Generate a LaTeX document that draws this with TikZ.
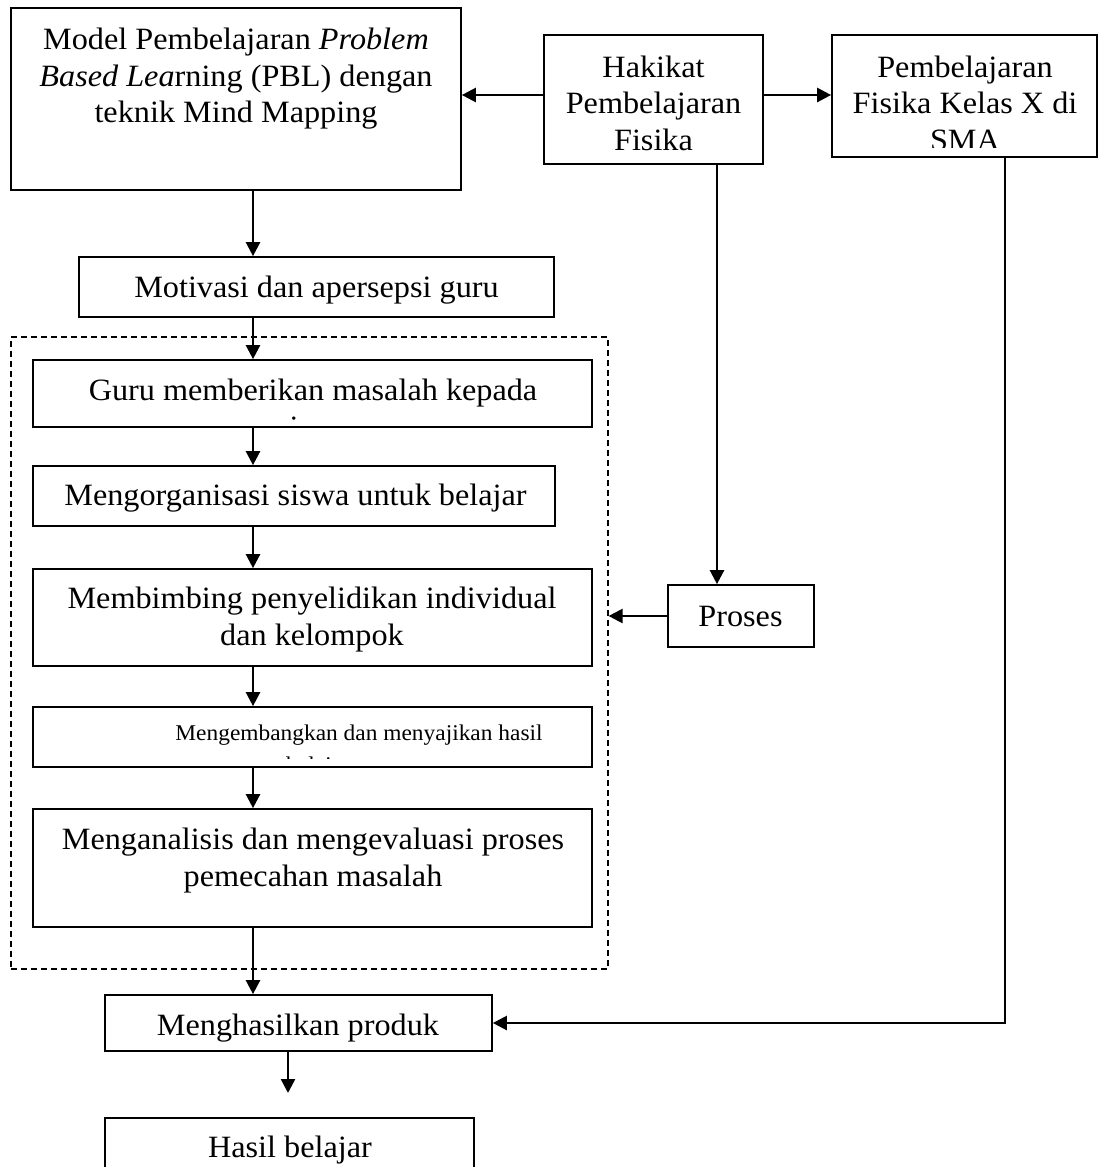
\documentclass[tikz,border=0pt]{standalone}
\usepackage{fontspec}
\setmainfont{Liberation Serif}[FakeStretch=1.04]
\usetikzlibrary{arrows.meta}
\tikzset{
  box/.style={draw, line width=1.7pt, rectangle, inner sep=0pt},
  dbox/.style={draw, line width=1.2pt, dash pattern=on 6pt off 4pt, rectangle, inner sep=0pt},
  txt/.style={inner sep=0pt, align=center, font=\fontsize{31}{36.5}\selectfont},
  smalltxt/.style={inner sep=0pt, align=center, font=\fontsize{22.5}{32}\selectfont},
  arr/.style={line width=2.4pt, -{Triangle[length=14pt,width=14pt]}},
  ln/.style={line width=2.4pt}
}
\newcommand{\pbox}[6][box]{% style, name, x1, y1, x2, y2
  \node[#1, minimum width={#5-#3}, minimum height={#6-#4}] (#2) at ({(#3+#5)/2},{(#4+#6)/2}) {};}
\begin{document}
\begin{tikzpicture}[x=1pt,y=-1pt]
\clip (0,0) rectangle (1098,1167);
\fill[white] (0,0) rectangle (1098,1167);

% boxes
\pbox{A}{11}{8}{461}{190}
\pbox{H}{544}{35}{763}{164}
\pbox{P}{832}{35}{1097}{157}
\pbox{Mo}{79}{257}{554}{317}
\pbox[dbox]{D}{11}{337}{608}{969}
\pbox{G}{33}{360}{592}{427}
\pbox{Og}{33}{466}{555}{526}
\pbox{Mb}{33}{569}{592}{666}
\pbox{Me}{33}{707}{592}{767}
\pbox{Ma}{33}{809}{592}{927}
\pbox{Pr}{668}{585}{814}{647}
\pbox{Mh}{105}{995}{492}{1051}
\pbox{Hb}{105}{1118}{474}{1200}

% texts
\node[txt, anchor=north] (At) at (236,27.8) {Model Pembelajaran \textit{Problem}\\\textit{Based Lea}rning (PBL) dengan\\teknik Mind Mapping};
\node[txt, anchor=north] (Ht) at (653.5,55.5) {Hakikat\\Pembelajaran\\Fisika};
\begin{scope}
  \clip (832.8,35.8) rectangle (1096.2,147);
  \node[txt, anchor=north] (Pt) at (965,55.5) {Pembelajaran\\Fisika Kelas X di\\SMA};
\end{scope}
\node[txt, anchor=base] (Mot) at (316.5,297) {Motivasi dan apersepsi guru};
\begin{scope}
  \clip (33.8,360.8) rectangle (591.2,421.5);
  \node[txt, anchor=north] (Gt) at (313,378.8) {Guru memberikan masalah kepada\\siswa};
\end{scope}
\node[txt, anchor=base] (Ogt) at (295.5,505) {Mengorganisasi siswa untuk belajar};
\node[txt, anchor=north] (Mbt) at (312,586.8) {Membimbing penyelidikan individual\\dan kelompok};
\begin{scope}
  \clip (33.8,707.8) rectangle (591.2,758.5);
  \node[smalltxt, anchor=north] (Met) at (318,724.6) {\hspace*{82pt}Mengembangkan dan menyajikan hasil\\belajar};
\end{scope}
\node[txt, anchor=north] (Mat) at (313,827.8) {Menganalisis dan mengevaluasi proses\\pemecahan masalah};
\node[txt, anchor=base] (Prt) at (740.5,626) {Proses};
\node[txt, anchor=base] (Mht) at (298,1035) {Menghasilkan produk};
\node[txt, anchor=base] (Hbt) at (290,1157) {Hasil belajar};

% connector guides
\coordinate (cx) at (253,0);
\coordinate (hd) at (717,0);
\coordinate (px) at (1005,0);
\coordinate (endp) at (288,1093);

% connectors
\draw[arr] ([yshift=4.5pt]H.west) -- ([yshift=4.5pt]H.west -| A.east);
\draw[arr] ([yshift=4.5pt]H.east) -- ([yshift=4.5pt]H.east -| P.west);
\draw[arr] (hd |- H.south) -- (hd |- Pr.north);
\draw[arr] (Pr.west) -- (Pr.west -| D.east);
\draw[arr] (px |- P.south) |- (Mh.east);
\draw[arr] (cx |- A.south) -- (cx |- Mo.north);
\draw[arr] (cx |- Mo.south) -- (cx |- G.north);
\draw[arr] (cx |- G.south) -- (cx |- Og.north);
\draw[arr] (cx |- Og.south) -- (cx |- Mb.north);
\draw[arr] (cx |- Mb.south) -- (cx |- Me.north);
\draw[arr] (cx |- Me.south) -- (cx |- Ma.north);
\draw[arr] (cx |- Ma.south) -- (cx |- Mh.north);
\draw[arr] (endp |- Mh.south) -- (endp);
\end{tikzpicture}
\end{document}
